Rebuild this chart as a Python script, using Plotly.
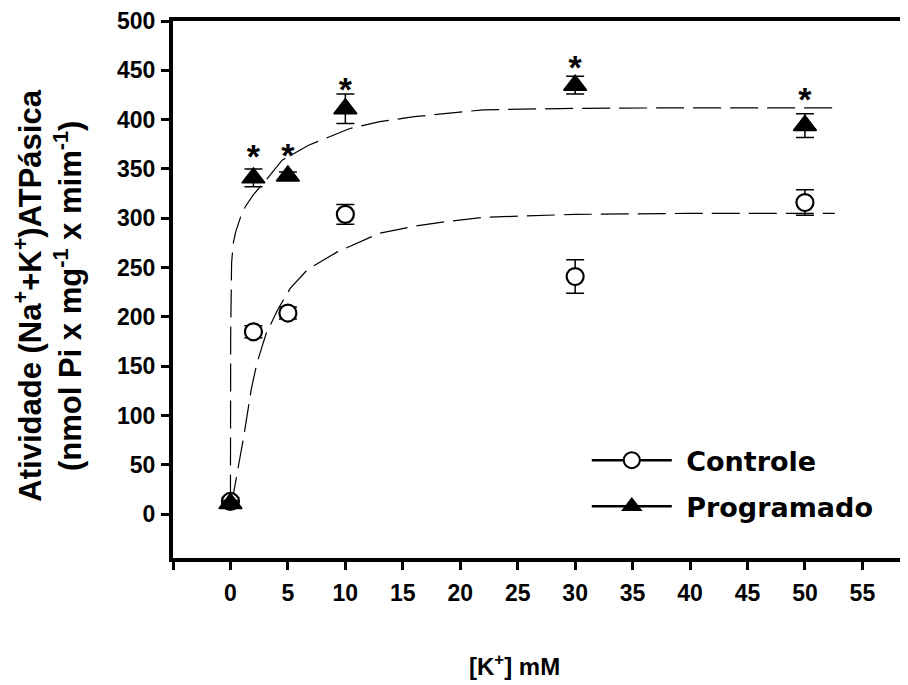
import plotly.graph_objects as go

# ---- data ----
k_conc = [0, 2, 5, 10, 30, 50]
controle_y = [13, 185, 204, 304, 241, 316]
controle_err = [4, 6, 6, 10, 17, 13]
programado_y = [11, 341, 343, 411, 435, 394]
programado_err = [3, 9, 4, 15, 9, 12]

# significance marks ("*") above the Programado points
star_x = [2, 5, 10, 30, 50]
star_y = [360, 361, 428, 450, 417]

# fitted curves
controle_fit_x = [0, 0.25, 1.16, 1.8, 2.3, 3.1, 4.1, 5.2, 6.7, 9.3, 13, 16, 19, 22, 30, 40, 52.6]
controle_fit_y = [10, 20, 79, 126, 153, 183, 207, 229, 248, 266, 285, 292, 297, 301, 304, 305, 305]
programado_fit_x = [0, 0.02, 0.1, 0.25, 0.45, 0.9, 1.3, 2.0, 2.9, 4.5, 6.8, 10.4, 13, 16, 22, 30, 40, 53]
programado_fit_y = [12, 180, 255, 275, 286, 302, 312, 324, 336, 359, 374, 391, 398, 403, 410, 411.5, 412, 412]

x_tickvals = [-5, 0, 5, 10, 15, 20, 25, 30, 35, 40, 45, 50, 55]
x_ticktext = ["", "0", "5", "10", "15", "20", "25", "30", "35", "40", "45", "50", "55"]
y_tickvals = [0, 50, 100, 150, 200, 250, 300, 350, 400, 450, 500]

FONT = "Liberation Sans, Arial, sans-serif"

fig = go.Figure()

dash = "28px,9px"
fig.add_trace(go.Scatter(x=controle_fit_x, y=controle_fit_y, mode="lines",
                         line=dict(color="black", width=1.2, dash=dash),
                         showlegend=False, hoverinfo="skip"))
fig.add_trace(go.Scatter(x=programado_fit_x, y=programado_fit_y, mode="lines",
                         line=dict(color="black", width=1.2, dash=dash),
                         showlegend=False, hoverinfo="skip"))

fig.add_trace(go.Scatter(x=k_conc, y=controle_y, mode="markers",
                         marker=dict(symbol="circle", size=17, color="white",
                                     line=dict(color="black", width=2.2)),
                         error_y=dict(type="data", array=controle_err, visible=True,
                                      color="black", thickness=1.5, width=9),
                         showlegend=False))
fig.add_trace(go.Scatter(x=k_conc, y=programado_y, mode="markers",
                         marker=dict(symbol="triangle-up", size=20, color="black",
                                     line=dict(color="black", width=1.5)),
                         error_y=dict(type="data", array=programado_err, visible=True,
                                      color="black", thickness=1.5, width=9),
                         showlegend=False))

fig.add_trace(go.Scatter(x=star_x, y=star_y, mode="text", text=["*"] * len(star_x),
                         textposition="middle center",
                         textfont=dict(family=FONT, size=34, color="black", weight="bold"),
                         showlegend=False, hoverinfo="skip"))

# legend entries
fig.add_trace(go.Scatter(x=[None], y=[None], mode="lines+markers", name="\u00a0Controle",
                         legendgroup="a",
                         line=dict(color="black", width=2.5),
                         marker=dict(symbol="circle", size=17, color="white",
                                     line=dict(color="black", width=2))))
fig.add_trace(go.Scatter(x=[None], y=[None], mode="lines+markers", name="\u00a0Programado",
                         legendgroup="b",
                         line=dict(color="black", width=2.5),
                         marker=dict(symbol="triangle-up", size=20, color="black",
                                     line=dict(color="black", width=1.5))))

# The page body has an 8px margin, so the figure is 900x677 and offset by 8px.
fig.update_layout(
    width=900, height=677,
    margin=dict(l=165, r=0, t=13, b=127, autoexpand=False),
    plot_bgcolor="white", paper_bgcolor="white",
    showlegend=True,
    legend=dict(x=0.563, y=0.227, xanchor="left", yanchor="top",
                font=dict(family="DejaVu Sans", size=27, color="black", weight="bold"),
                itemwidth=80, tracegroupgap=8, traceorder="grouped",
                bgcolor="rgba(0,0,0,0)"),
    xaxis=dict(range=[-5, 58.97], tickvals=x_tickvals, ticktext=x_ticktext,
               showline=True, linewidth=4, linecolor="black", mirror=True,
               ticks="outside", ticklen=8, tickwidth=2.5, tickcolor="black",
               showgrid=False, zeroline=False, ticklabelstandoff=3, automargin=False,
               tickfont=dict(family=FONT, size=23, color="black", weight="bold")),
    yaxis=dict(range=[-44.3, 500], tickvals=y_tickvals,
               showline=True, linewidth=4, linecolor="black", mirror=False,
               ticks="outside", ticklen=8, tickwidth=2.5, tickcolor="black",
               showgrid=False, zeroline=False, ticklabelstandoff=1, automargin=False,
               tickfont=dict(family=FONT, size=23, color="black", weight="bold")),
    annotations=[
        dict(text="Atividade (Na<sup>+</sup>+K<sup>+</sup>)ATPásica<br>(nmol Pi x mg<sup>-1</sup> x mim<sup>-1</sup>)",
             xref="paper", yref="paper", x=-0.1705, y=0.488, xanchor="center", yanchor="middle",
             textangle=-90, showarrow=False,
             font=dict(family=FONT, size=31, color="black", weight="bold")),
        dict(text="[K<sup>+</sup>] mM", xref="paper", yref="paper", x=0.465, y=-0.199,
             xanchor="center", yanchor="middle", showarrow=False,
             font=dict(family=FONT, size=24, color="black", weight="bold")),
    ],
)

fig.write_html("out.html")
